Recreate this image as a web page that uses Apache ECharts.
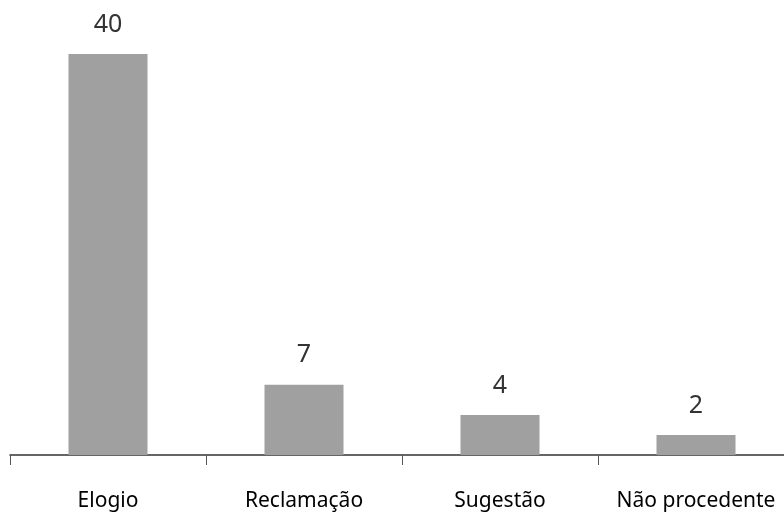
<!DOCTYPE html>
<html>
<head>
<meta charset="utf-8">
<script src="https://cdn.jsdelivr.net/npm/echarts@6/dist/echarts.min.js"></script>
<style>
  html, body { margin: 0; padding: 0; background: #fff; }
  #chart { width: 784px; height: 517px; }
</style>
</head>
<body>
<div id="chart"></div>
<script>
'use strict';
const categories = ['Elogio', 'Reclamação', 'Sugestão', 'Não procedente'];
const values = [40, 7, 4, 2];

let myChart = echarts.init(document.getElementById('chart'));
let option = {
    animation: false,
    grid: {
        left: 10,
        right: -10,
        top: 4,
        bottom: 62,
        outerBoundsMode: 'none'
    },
    xAxis: {
        type: 'category',
        data: categories,
        axisLine: {
            lineStyle: { color: '#333', width: 1.5 }
        },
        axisTick: {
            show: true,
            interval: 0,
            length: 10,
            lineStyle: { color: '#555' }
        },
        axisLabel: {
            interval: 0,
            margin: 36,
            fontSize: 21,
            color: '#000',
            fontFamily: 'Noto Sans'
        }
    },
    yAxis: {
        type: 'value',
        min: 0,
        max: 45,
        show: false
    },
    series: [{
        type: 'bar',
        data: values,
        barWidth: 79,
        itemStyle: { color: '#a0a0a0' },
        label: {
            show: true,
            position: 'top',
            distance: 17,
            fontSize: 25,
            color: '#333',
            fontFamily: 'Noto Sans'
        }
    }]
};
myChart.setOption(option);
</script>
</body>
</html>
